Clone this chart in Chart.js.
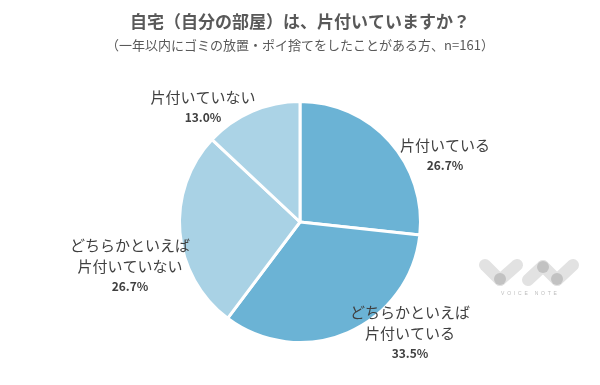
<!DOCTYPE html>
<html>
<head>
<meta charset="utf-8">
<script src="https://cdn.jsdelivr.net/npm/chart.js@4.4.0/dist/chart.umd.min.js"></script>
<style>
  body { margin: 0; background: #fff; }
  #wrap { width: 600px; height: 385px; }
</style>
</head>
<body>
<div id="wrap"><canvas id="chart" width="600" height="385"></canvas></div>
<script>
var titleText = "自宅（自分の部屋）は、片付いていますか？";
var subTitleText = "（一年以内にゴミの放置・ポイ捨てをしたことがある方、n=161）";
var categories = [
  ["片付いている"],
  ["どちらかといえば", "片付いている"],
  ["どちらかといえば", "片付いていない"],
  ["片付いていない"]
];
var shares = [26.7, 33.5, 26.7, 13.0];
var sliceColors = ["#6bb3d5", "#6bb3d5", "#a9d2e5", "#abd3e6"];

// where each label block sits, relative to the pie centre (px)
var labelSpots = [
  { dx: 145, dy: -77 },
  { dx: 110, dy: 90 },
  { dx: -170, dy: 23 },
  { dx: -97, dy: -125 }
];

var textPlugin = {
  id: "textPlugin",
  afterDraw: function(chart) {
    var ctx = chart.ctx;
    var jp = '"Noto Sans CJK JP", "Noto Sans", sans-serif';
    ctx.save();
    ctx.textAlign = "center";
    ctx.textBaseline = "middle";
    ctx.fillStyle = "#595959";
    ctx.font = "bold 17px " + jp;
    ctx.fillText(titleText, 300, 22);
    ctx.font = "13px " + jp;
    ctx.fillText(subTitleText, 300, 45);

    var arc = chart.getDatasetMeta(0).data[0];
    var cx = arc.x, cy = arc.y;
    categories.forEach(function(lines, i) {
      var s = labelSpots[i];
      var y = cy + s.dy;
      ctx.fillStyle = "#404040";
      ctx.font = "15px " + jp;
      lines.forEach(function(line) {
        ctx.fillText(line, cx + s.dx, y);
        y += 21;
      });
      ctx.font = "bold 12px " + jp;
      ctx.fillText(shares[i].toFixed(1) + "%", cx + s.dx, y - 1);
    });

    // VOICE NOTE watermark
    ctx.lineCap = "round";
    ctx.lineWidth = 12;
    function stroke(x1, y1, x2, y2, c) {
      ctx.strokeStyle = c;
      ctx.beginPath();
      ctx.moveTo(x1, y1);
      ctx.lineTo(x2, y2);
      ctx.stroke();
    }
    stroke(485, 265, 500, 280, "#e2e2e2");
    stroke(500, 280, 517, 265, "#e2e2e2");
    stroke(528, 280, 543, 266, "#e2e2e2");
    stroke(543, 266, 557, 280, "#e2e2e2");
    stroke(557, 280, 573, 265, "#e2e2e2");
    ctx.fillStyle = "#c2c2c2";
    ctx.beginPath(); ctx.arc(500, 279, 6, 0, Math.PI * 2); ctx.fill();
    ctx.beginPath(); ctx.arc(543, 267, 6, 0, Math.PI * 2); ctx.fill();
    ctx.beginPath(); ctx.arc(557, 279, 6, 0, Math.PI * 2); ctx.fill();
    ctx.fillStyle = "#bdbdbd";
    ctx.font = "5px sans-serif";
    ctx.fillText("V  O  I  C  E     N  O  T  E", 529, 294);
    ctx.restore();
  }
};

new Chart(document.getElementById("chart"), {
  type: "pie",
  data: {
    labels: categories.map(function(l) { return l.join(""); }),
    datasets: [{
      data: shares,
      backgroundColor: sliceColors,
      borderColor: "#ffffff",
      borderWidth: 3
    }]
  },
  options: {
    responsive: false,
    animation: false,
    layout: { padding: { top: 100, bottom: 41, left: 0, right: 0 } },
    plugins: {
      legend: { display: false },
      tooltip: { enabled: false }
    }
  },
  plugins: [textPlugin]
});
</script>
</body>
</html>
